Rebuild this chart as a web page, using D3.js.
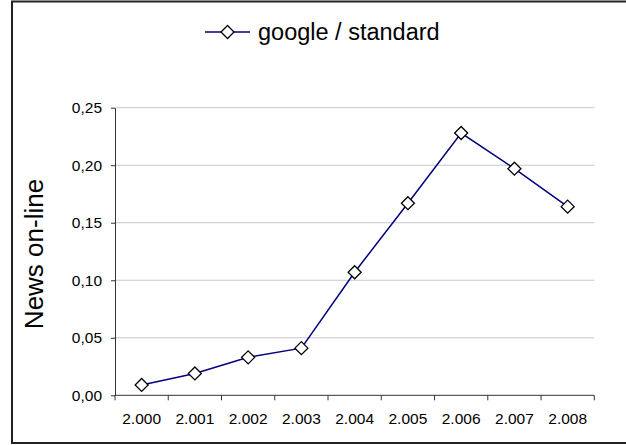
<!DOCTYPE html>
<html><head><meta charset="utf-8">
<script src="https://cdn.jsdelivr.net/npm/d3@7"></script>
<style>
html,body{margin:0;padding:0;background:#fff;}
svg{display:block;font-family:"Liberation Sans",Arial,sans-serif;}
</style></head>
<body>
<svg id="chart" width="626" height="445"></svg>
<script>
const categories = ["2.000","2.001","2.002","2.003","2.004","2.005","2.006","2.007","2.008"];
const seriesName = "google / standard";
const values = [0.009, 0.019, 0.033, 0.041, 0.107, 0.167, 0.228, 0.197, 0.164];
const yTicks = [0, 0.05, 0.10, 0.15, 0.20, 0.25];
const yTitle = "News on-line";

const svg = d3.select("#chart");
const W = 626, H = 445;
const m = {left:115, right:31.7, top:107.7, bottom:49.7};

// outer frame
svg.append("rect").attr("x",12).attr("y",1.5).attr("width",640).attr("height",441.5)
  .attr("fill","none").attr("stroke","#222").attr("stroke-width",2);

const x = d3.scaleBand().domain(categories).range([m.left, W - m.right]);
const y = d3.scaleLinear().domain([0,0.25]).range([H - m.bottom, m.top]);

const loc = d3.formatLocale({decimal:",", thousands:".", grouping:[3], currency:["",""]});
const fmt = loc.format(".2f");

// gridlines
svg.append("g").selectAll("line").data(yTicks.filter(d=>d>0)).join("line")
  .attr("x1",m.left).attr("x2",W-m.right)
  .attr("y1",d=>y(d)).attr("y2",d=>y(d))
  .attr("stroke","#c8c8c8").attr("stroke-width",1);

// y axis
const yAxis = svg.append("g").attr("transform",`translate(${m.left},0)`)
  .call(d3.axisLeft(y).tickValues(yTicks).tickFormat(fmt).tickSize(4).tickSizeOuter(0).tickPadding(9));
yAxis.select(".domain").attr("stroke","#333");
yAxis.selectAll(".tick line").attr("stroke","#333");
yAxis.selectAll("text").attr("font-size",15.5).attr("fill","#000").attr("font-family","Liberation Sans, Arial, sans-serif");

// x axis with ticks at band boundaries
const xAxisG = svg.append("g").attr("transform",`translate(0,${H-m.bottom})`);
xAxisG.append("line").attr("x1",m.left).attr("x2",W-m.right).attr("stroke","#333");
const bounds = categories.map(c=>x(c)).concat([x(categories[categories.length-1])+x.bandwidth()]);
xAxisG.selectAll("line.tk").data(bounds).join("line").attr("class","tk")
  .attr("x1",d=>d).attr("x2",d=>d).attr("y1",0).attr("y2",5).attr("stroke","#333");
xAxisG.selectAll("text").data(categories).join("text")
  .attr("x",d=>x(d)+x.bandwidth()/2).attr("y",29)
  .attr("text-anchor","middle").attr("font-size",15.5).attr("fill","#000").text(d=>d);

// y title
svg.append("text").attr("transform",`translate(43,254) rotate(-90)`)
  .attr("text-anchor","middle").attr("font-size",26).attr("fill","#000").text(yTitle);

// line
const cx = d=>x(d.c)+x.bandwidth()/2;
const pts = categories.map((c,i)=>({c, v:values[i]}));
svg.append("path").datum(pts)
  .attr("d", d3.line().x(cx).y(d=>y(d.v)))
  .attr("fill","none").attr("stroke","#000080").attr("stroke-width",1.5);

const diamond = s => `M0,${-s}L${s},0L0,${s}L${-s},0Z`;
svg.append("g").selectAll("path").data(pts).join("path")
  .attr("transform",d=>`translate(${cx(d)},${y(d.v)})`)
  .attr("d",diamond(6.5)).attr("fill","#fff").attr("stroke","#000").attr("stroke-width",1.3);

// legend
const lg = svg.append("g").attr("transform","translate(205,32)");
lg.append("line").attr("x1",0).attr("x2",45).attr("stroke","#000080").attr("stroke-width",1.5);
lg.append("path").attr("transform","translate(22.5,0)").attr("d",diamond(6.5))
  .attr("fill","#fff").attr("stroke","#000").attr("stroke-width",1.3);
lg.append("text").attr("x",53).attr("y",8).attr("font-size",23.5).attr("fill","#000").text(seriesName);
</script>
</body></html>
